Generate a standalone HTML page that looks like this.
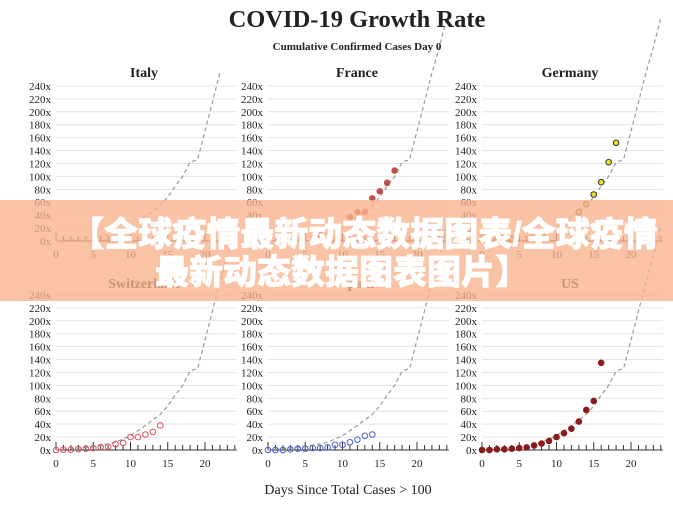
<!DOCTYPE html>
<html><head><meta charset="utf-8"><style>
html,body{margin:0;padding:0;background:#fff;}
svg{display:block;}
.t{font-family:"Liberation Serif",serif;fill:#222;}
.ov{font-family:"Liberation Sans","Noto Sans CJK SC",sans-serif;font-weight:900;fill:#fff;font-size:34px;}
</style></head><body>
<svg id="s" width="673" height="505" viewBox="0 0 673 505" xmlns="http://www.w3.org/2000/svg">
<g id="g"></g>
<text class="t" x="357" y="27" font-size="24.5" font-weight="bold" text-anchor="middle">COVID-19 Growth Rate</text>
<text class="t" x="357" y="50" font-size="11" font-weight="bold" text-anchor="middle">Cumulative Confirmed Cases Day 0</text>
<text class="t" x="144" y="77" font-size="14" font-weight="bold" text-anchor="middle">Italy</text>
<text class="t" x="357" y="77" font-size="14" font-weight="bold" text-anchor="middle">France</text>
<text class="t" x="570" y="77" font-size="14" font-weight="bold" text-anchor="middle">Germany</text>
<text class="t" x="144" y="288" font-size="14" font-weight="bold" text-anchor="middle">Switzerland</text>
<text class="t" x="357" y="288" font-size="14" font-weight="bold" text-anchor="middle">Spain</text>
<text class="t" x="570" y="288" font-size="14" font-weight="bold" text-anchor="middle">US</text>
<text class="t" x="348" y="494" font-size="14" text-anchor="middle">Days Since Total Cases &gt; 100</text>
<g id="lab" class="t" font-size="11"></g>
<rect x="0" y="200" width="673" height="101" fill="rgba(250,178,140,0.78)"/>
<text class="ov" x="364" y="246" text-anchor="middle" stroke="#fff" stroke-width="0.7">【全球疫情最新动态数据图表/全球疫情</text>
<text class="ov" x="342" y="284" text-anchor="middle" stroke="#fff" stroke-width="0.7">最新动态数据图表图片】</text>
</svg>
<script>
var g=document.getElementById('g'),lab=document.getElementById('lab');
var NS='http://www.w3.org/2000/svg';
function el(p,t,a){var e=document.createElementNS(NS,t);for(var k in a)e.setAttribute(k,a[k]);p.appendChild(e);return e;}
var X=[56,268,482],Y=[241,450],sx=7.45,sy=0.646;
var ref=[[0,0],[3,3],[5,5],[8,12],[10,22],[12,38],[14,55],[15,68],[16,85],[17,100],[18,122],[19,126],[20,170],[21,215],[22,260],[23,300],[24,345]];
var data={
'0,1':{c:'#c0504d',f:1,v:[[7,10],[11,37],[12,45],[13,45],[14,66],[15,77],[16,90],[17,109]]},
'0,2':{c:'#333',f:'#e8e020',v:[[0,2],[2,2],[4,3],[8,10],[13,45],[14,57],[15,72],[16,91],[17,122],[18,152]]},
'1,0':{c:'#d9505a',f:0,v:[0,.5,.5,1.5,2,3,4.5,5,9,11,20,20,24,28,38]},
'1,1':{c:'#4a5fd0',f:0,v:[0,0,0,1,2,2,3,3,4,8,8,12,16,22,24]},
'1,2':{c:'#8b1a1a',f:1,v:[0,0,1,1,2,3,4,7,10,14,20,26,33,44,62,76,135]}
};
for(var r=0;r<2;r++)for(var c=0;c<3;c++){
 var x0=X[c],y0=Y[r];
 for(var i=0;i<=12;i++){var y=y0-i*20*sy;
  if(i>0)el(g,'line',{x1:x0,x2:x0+24*sx+2,y1:y,y2:y,stroke:'#e4e4e4','stroke-width':1});
  var t=el(lab,'text',{x:x0-5,y:y+4,'text-anchor':'end'});t.textContent=(i*20)+'x';}
 el(g,'line',{x1:x0,x2:x0+24*sx+2,y1:y0,y2:y0,stroke:'#333','stroke-width':1});
 for(var d=0;d<=24;d++){var xx=x0+d*sx;el(g,'line',{x1:xx,x2:xx,y1:y0-(d%5==0?8:5),y2:y0,stroke:'#333','stroke-width':1});}
 for(var d=0;d<=20;d+=5){var t=el(lab,'text',{x:x0+d*sx,y:y0+17,'text-anchor':'middle'});t.textContent=d;}
 var pts=ref.filter(function(p){return !(r==0&&c==0&&p[0]>22);}).map(function(p){return (x0+p[0]*sx)+','+(y0-p[1]*sy);}).join(' ');
 el(g,'polyline',{points:pts,fill:'none',stroke:'#999','stroke-width':1.2,'stroke-dasharray':'4,3'});
 var D=data[r+','+c];
 if(D){for(var k=0;k<D.v.length;k++){var p=D.v[k],dd,vv;if(typeof p=='number'){dd=k;vv=p;}else{dd=p[0];vv=p[1];}
  var fill=D.f===1?D.c:(D.f===0?'none':D.f);
  el(g,'circle',{cx:x0+dd*sx,cy:y0-vv*sy,r:2.8,fill:fill,stroke:D.c,'stroke-width':1});}}
}
</script>
</body></html>
